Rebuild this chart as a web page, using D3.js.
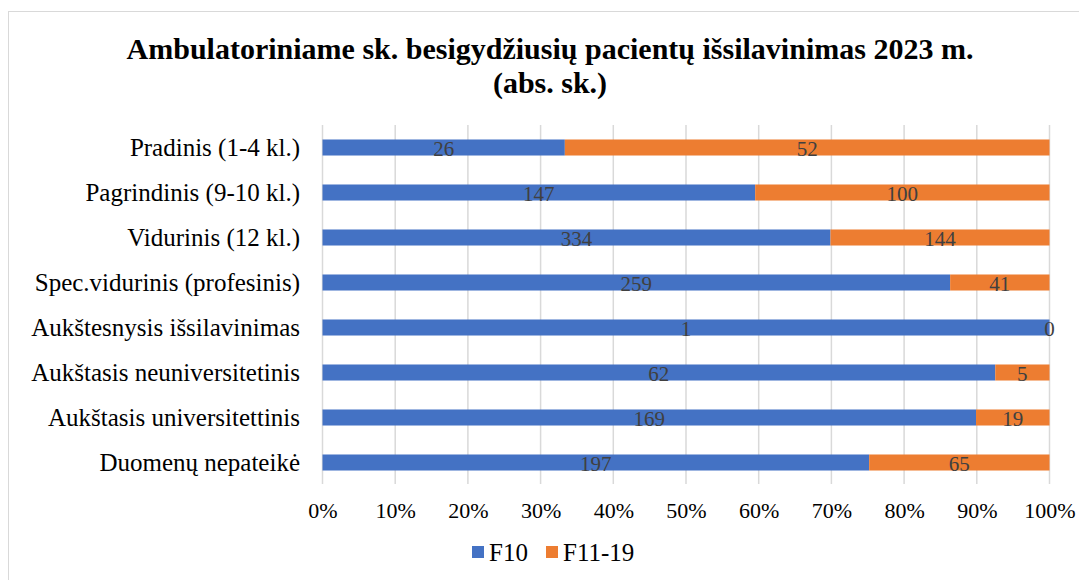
<!DOCTYPE html>
<html>
<head>
<meta charset="utf-8">
<script src="https://cdn.jsdelivr.net/npm/d3@7"></script>
<style>
  body { margin: 0; background: #fff; }
  text { font-family: "Liberation Serif", "Times New Roman", serif; }
</style>
</head>
<body>
<script>
var width = 1079;
var height = 580;

var categories = ["Pradinis (1-4 kl.)", "Pagrindinis (9-10 kl.)", "Vidurinis (12 kl.)",
    "Spec.vidurinis (profesinis)", "Aukštesnysis išsilavinimas", "Aukštasis neuniversitetinis",
    "Aukštasis universitettinis", "Duomenų nepateikė"];
var f10 = [26, 147, 334, 259, 1, 62, 169, 197];
var f11 = [52, 100, 144, 41, 0, 5, 19, 65];
var seriesNames = ["F10", "F11-19"];
var colors = ["#4472C4", "#ED7D31"];
var ticks = [0, 0.1, 0.2, 0.3, 0.4, 0.5, 0.6, 0.7, 0.8, 0.9, 1];

var svg = d3.select("body").append("svg")
    .attr("width", width)
    .attr("height", height);

// chart border
svg.append("rect")
    .attr("x", 8.5).attr("y", 11.5)
    .attr("width", width).attr("height", height)
    .attr("fill", "none")
    .attr("stroke", "#d9d9d9");

svg.append("text")
    .attr("x", 550).attr("y", 59)
    .attr("text-anchor", "middle")
    .style("font-weight", "bold").style("font-size", "30px")
    .text("Ambulatoriniame sk. besigydžiusių pacientų išsilavinimas 2023 m.");
svg.append("text")
    .attr("x", 550).attr("y", 93)
    .attr("text-anchor", "middle")
    .style("font-weight", "bold").style("font-size", "30px")
    .text("(abs. sk.)");

var data = categories.map(function(c, i) {
    var total = f10[i] + f11[i];
    return { cat: c, vals: [f10[i], f11[i]], total: total };
});

var xScale = d3.scaleLinear().domain([0, 1]).range([322.5, 1049.5]);
var yScale = d3.scaleBand().domain(categories).range([125, 485]).paddingInner(0.644).paddingOuter(0.322);

// gridlines
svg.append("g").selectAll("line")
    .data(ticks)
    .enter().append("line")
    .attr("x1", function(d) { return xScale(d); })
    .attr("x2", function(d) { return xScale(d); })
    .attr("y1", 125).attr("y2", 484)
    .attr("stroke", "#d9d9d9")
    .attr("stroke-width", 1.5);

// segments
var rows = svg.append("g").selectAll("g")
    .data(data)
    .enter().append("g");

rows.each(function(d) {
    var g = d3.select(this);
    var start = 0;
    d.vals.forEach(function(v, k) {
        var share = v / d.total;
        var x0 = xScale(start), x1 = xScale(start + share);
        g.append("rect")
            .attr("x", x0)
            .attr("y", yScale(d.cat))
            .attr("width", x1 - x0)
            .attr("height", yScale.bandwidth())
            .attr("fill", colors[k]);
        g.append("text")
            .attr("x", (x0 + x1) / 2)
            .attr("y", yScale(d.cat) + yScale.bandwidth() / 2 + 1)
            .attr("dy", "0.35em")
            .attr("text-anchor", "middle")
            .style("font-size", "21px")
            .attr("fill", "#404040")
            .text(v);
        start += share;
    });
});

// category labels
svg.append("g").selectAll("text")
    .data(categories)
    .enter().append("text")
    .attr("x", 300)
    .attr("y", function(d) { return yScale(d) + yScale.bandwidth() / 2; })
    .attr("dy", "0.35em")
    .attr("text-anchor", "end")
    .style("font-size", "25px")
    .attr("fill", "#000")
    .text(function(d) { return d; });

// x axis labels
var xAxis = svg.append("g")
    .attr("transform", "translate(0,496)")
    .call(d3.axisBottom(xScale).tickValues(ticks).tickFormat(d3.format(".0%")).tickSize(0).tickPadding(6));
xAxis.select(".domain").remove();
xAxis.selectAll("text")
    .style("font-family", "'Liberation Serif', 'Times New Roman', serif")
    .style("font-size", "22px")
    .attr("fill", "#000");

// legend
var legend = svg.selectAll(".legend")
    .data(seriesNames)
    .enter().append("g")
    .attr("class", "legend")
    .attr("transform", function(d, i) { return "translate(" + (472 + i * 74) + ",552)"; });

legend.append("rect")
    .attr("x", 0).attr("y", -6)
    .attr("width", 12).attr("height", 12)
    .attr("fill", function(d, i) { return colors[i]; });

legend.append("text")
    .attr("x", 17).attr("y", 0)
    .attr("dy", "0.35em")
    .style("font-size", "25px")
    .text(function(d) { return d; });
</script>
</body>
</html>
